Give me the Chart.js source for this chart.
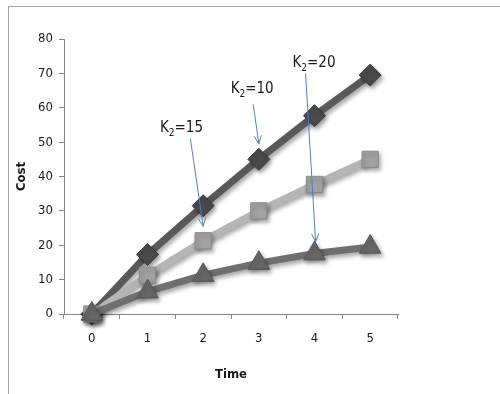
<!DOCTYPE html>
<html>
<head>
<meta charset="utf-8">
<script src="https://cdn.jsdelivr.net/npm/chart.js@4"></script>
<style>
  body { margin: 0; background: #fff; }
  #wrap { position: relative; width: 500px; height: 394px; }
  #frame { position: absolute; left: 8px; top: 6px; right: 0; bottom: 0; border-top: 1px solid #a6a6a6; border-left: 1px solid #a6a6a6; }
  canvas { position: absolute; left: 0; top: 0; }
</style>
</head>
<body>
<div id="wrap">
  <div id="frame"></div>
  <canvas id="costChart" width="500" height="394"></canvas>
</div>
<script>
// x categories
const timeLabels = ['0', '1', '2', '3', '4', '5'];
// cost series, one per K2 value
const costK10 = [0, 17.3, 31.5, 45, 57.7, 69.5];
const costK15 = [0, 11.3, 21.3, 30, 37.7, 45];
const costK20 = [0, 6.5, 11.3, 14.8, 17.6, 19.5];
// y ticks
const costTicks = [0, 10, 20, 30, 40, 50, 60, 70, 80];

// callout texts (K2 = ...)
const calloutValues = ['15', '10', '20'];
// label centre, arrow start and arrow end in data units (time index, cost)
const calloutText = [[1.61, 54], [2.88, 65.4], [3.99, 73]];
const calloutFrom = [[1.77, 51], [2.90, 61], [3.84, 70]];
const calloutTo = [[2.0, 25.5], [3.0, 49.5], [4.02, 21]];

const fontFam = '"DejaVu Sans Condensed", "Liberation Sans Narrow", "Open Sans", sans-serif';

const shadowPlugin = {
    id: 'shadow',
    beforeDatasetDraw(chart) {
        const ctx = chart.ctx;
        ctx.save();
        ctx.shadowColor = 'rgba(0,0,0,0.35)';
        ctx.shadowBlur = 4;
        ctx.shadowOffsetX = 2;
        ctx.shadowOffsetY = 3;
    },
    afterDatasetDraw(chart) {
        chart.ctx.restore();
    }
};

const calloutPlugin = {
    id: 'callouts',
    afterDatasetsDraw(chart) {
        const ctx = chart.ctx;
        const x = chart.scales.x, y = chart.scales.y;
        ctx.save();
        calloutValues.forEach((v, i) => {
            // text with subscript 2
            const cx = x.getPixelForValue(calloutText[i][0]);
            const cy = y.getPixelForValue(calloutText[i][1]);
            ctx.fillStyle = '#1a1a1a';
            ctx.textBaseline = 'middle';
            ctx.textAlign = 'left';
            const big = '15px ' + fontFam, small = '10px ' + fontFam;
            ctx.font = big;
            const wK = ctx.measureText('K').width;
            const wRest = ctx.measureText('=' + v).width;
            ctx.font = small;
            const w2 = ctx.measureText('2').width;
            let sx = cx - (wK + w2 + wRest) / 2;
            ctx.font = big;
            ctx.fillText('K', sx, cy);
            ctx.font = small;
            ctx.fillText('2', sx + wK, cy + 5);
            ctx.font = big;
            ctx.fillText('=' + v, sx + wK + w2, cy);

            // arrow
            const x0 = x.getPixelForValue(calloutFrom[i][0]);
            const y0 = y.getPixelForValue(calloutFrom[i][1]);
            const x1 = x.getPixelForValue(calloutTo[i][0]);
            const y1 = y.getPixelForValue(calloutTo[i][1]);
            ctx.strokeStyle = '#4f81bd';
            ctx.lineWidth = 1;
            ctx.beginPath();
            ctx.moveTo(x0, y0);
            ctx.lineTo(x1, y1);
            const a = Math.atan2(y1 - y0, x1 - x0);
            const len = 9, spread = 0.42;
            ctx.moveTo(x1 - len * Math.cos(a - spread), y1 - len * Math.sin(a - spread));
            ctx.lineTo(x1, y1);
            ctx.lineTo(x1 - len * Math.cos(a + spread), y1 - len * Math.sin(a + spread));
            ctx.stroke();
        });
        ctx.restore();
    }
};

new Chart(document.getElementById('costChart'), {
    type: 'line',
    data: {
        labels: timeLabels,
        datasets: [
            {
                label: 'K2=10',
                data: costK10,
                borderColor: '#595959',
                backgroundColor: '#4a4a4a',
                borderWidth: 7,
                pointStyle: 'rectRot',
                pointRadius: 11,
                pointBorderWidth: 1,
                pointBorderColor: '#3a3a3a',
                clip: false,
                order: 2
            },
            {
                label: 'K2=15',
                data: costK15,
                borderColor: '#b5b5b5',
                backgroundColor: '#a3a3a3',
                borderWidth: 7,
                pointStyle: 'rect',
                pointRadius: 11.5,
                pointBorderWidth: 1,
                pointBorderColor: '#8a8a8a',
                clip: false,
                order: 1
            },
            {
                label: 'K2=20',
                data: costK20,
                borderColor: '#6f6f6f',
                backgroundColor: '#686868',
                borderWidth: 7,
                pointStyle: 'triangle',
                pointRadius: 12.5,
                pointBorderWidth: 1,
                pointBorderColor: '#555555',
                clip: false,
                order: 0
            }
        ]
    },
    options: {
        responsive: false,
        animation: false,
        layout: { padding: { left: 0, top: 39, right: 102, bottom: 0 } },
        plugins: {
            legend: { display: false },
            tooltip: { enabled: false }
        },
        scales: {
            x: {
                offset: true,
                afterFit(scale) { scale.height = 80; },
                grid: { offset: true, drawOnChartArea: false, tickLength: 5, color: '#868686' },
                border: { color: '#868686', width: 1 },
                ticks: { color: '#1a1a1a', padding: 12, font: { family: fontFam, size: 13 } },
                title: { display: true, text: 'Time', color: '#1a1a1a', padding: { top: 0, bottom: 12 },
                         font: { family: fontFam, size: 13, weight: 'bold' } }
            },
            y: {
                min: 0,
                max: 80,
                afterFit(scale) { scale.width = 64; },
                afterBuildTicks(scale) { scale.ticks = costTicks.map(v => ({ value: v })); },
                grid: { drawOnChartArea: false, tickLength: 5, color: '#868686' },
                border: { color: '#868686', width: 1 },
                ticks: { color: '#1a1a1a', padding: 6, font: { family: fontFam, size: 13 } },
                title: { display: true, text: 'Cost', color: '#1a1a1a', padding: { top: 14, bottom: 0 },
                         font: { family: fontFam, size: 13, weight: 'bold' } }
            }
        }
    },
    plugins: [shadowPlugin, calloutPlugin]
});
</script>
</body>
</html>
